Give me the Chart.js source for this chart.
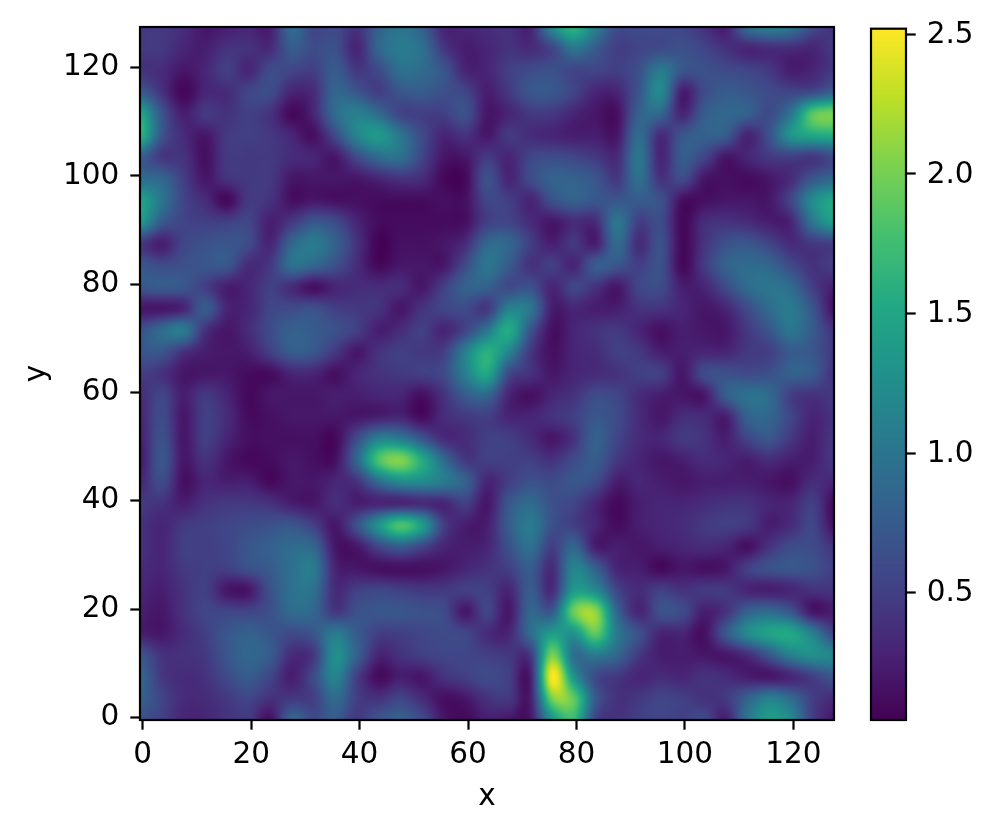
<!DOCTYPE html>
<html>
<head>
<meta charset="utf-8">
<title>Field heatmap</title>
<script src="https://cdn.jsdelivr.net/npm/chart.js@4"></script>
<style>
    html, body { margin: 0; padding: 0; background: #fff; }
    #wrap { position: relative; width: 995px; height: 832px; overflow: hidden; }
    canvas { position: absolute; top: 0; }
    #fieldChart { left: 0; }
    #barChart { left: 860px; }
</style>
</head>
<body>
<div id="wrap">
    <canvas id="fieldChart" width="860" height="832"></canvas>
    <canvas id="barChart" width="135" height="832"></canvas>
</div>
<script>
// Values, on a grid every 4 units
const xNodes = [-0.5,3.5,7.5,11.5,15.5,19.5,23.5,27.5,31.5,35.5,39.5,43.5,47.5,51.5,55.5,59.5,63.5,67.5,71.5,75.5,79.5,83.5,87.5,91.5,95.5,99.5,103.5,107.5,111.5,115.5,119.5,123.5,127.5];
const yNodes = [127.5,123.5,119.5,115.5,111.5,107.5,103.5,99.5,95.5,91.5,87.5,83.5,79.5,75.5,71.5,67.5,63.5,59.5,55.5,51.5,47.5,43.5,39.5,35.5,31.5,27.5,23.5,19.5,15.5,11.5,7.5,3.5,-0.5];
const fieldRows = [
    [.45,.45,.35,.2,.25,.3,.25,.9,.55,.6,.4,.8,1.0,.8,.3,.3,.35,.4,.3,1.2,1.65,1.1,.6,.6,.6,.55,.4,.25,.9,1.1,1.0,.6,.4],
    [.45,.45,.3,.25,.4,.4,.35,.75,.6,.65,.3,.85,1.05,.95,.45,.25,.3,.4,.35,.55,1.0,.75,.5,.55,.6,.65,.55,.4,.3,.35,.35,.3,.45],
    [.4,.35,.2,.3,.5,.3,.6,.55,.5,.75,.45,.6,.95,.9,.7,.3,.3,.5,.6,.65,.55,.55,.5,.65,1.05,.7,.65,.6,.55,.45,.25,.3,.45],
    [.75,.4,.08,.3,.35,.55,.6,.3,.35,.85,.7,.5,.7,.75,.65,.55,.25,.45,.7,.7,.55,.3,.3,.7,1.2,.25,.6,.75,.7,.6,.55,.6,.8],
    [1.5,.7,.25,.45,.4,.5,.4,.1,.3,.9,1.1,.9,.55,.5,.5,.65,.2,.3,.45,.45,.3,.2,.15,.8,.85,.3,.75,.85,.8,.6,1.0,1.85,2.0],
    [1.65,.7,.35,.2,.45,.5,.45,.3,.15,.6,1.15,1.35,1.0,.6,.3,.4,.2,.45,.35,.3,.25,.25,.2,.9,.35,.7,.8,.75,.3,.65,1.3,1.5,1.55],
    [.8,.45,.4,.15,.45,.45,.45,.35,.3,.2,.6,.9,.95,.55,.2,.2,.45,.3,.55,.6,.55,.45,.35,1.0,.3,.75,.55,.2,.3,.45,.5,.45,.6],
    [.9,.85,.5,.2,.4,.45,.45,.2,.2,.2,.2,.3,.4,.35,.1,.1,.65,.3,.6,.8,.8,.7,.45,.95,.4,.6,.2,.15,.12,.2,.35,.7,.85],
    [1.45,1.0,.55,.35,.1,.45,.4,.15,.2,.15,.15,.12,.12,.12,.15,.15,.55,.5,.3,.65,.8,.7,.7,.75,.65,.15,.15,.2,.2,.2,.55,1.2,1.5],
    [1.35,.75,.55,.5,.5,.55,.25,.45,.7,.6,.3,.12,.12,.12,.12,.15,.5,.55,.35,.2,.35,.35,1.0,.5,.6,.1,.35,.4,.35,.25,.3,1.0,1.4],
    [.45,.25,.55,.65,.7,.6,.3,.85,1.05,.8,.4,.06,.15,.15,.2,.35,.85,.85,.5,.25,.45,.25,.9,.35,.65,.1,.4,.65,.7,.55,.35,.45,.5],
    [.7,.6,.65,.7,.7,.35,.45,.95,.85,.65,.35,.1,.2,.2,.2,.6,1.0,.75,.4,.5,.3,.75,.7,.5,.65,.1,.45,.8,.9,.85,.6,.4,.5],
    [.7,.75,.7,.5,.25,.3,.5,.35,.15,.3,.35,.35,.35,.2,.5,.8,.8,.6,.65,.3,.55,.4,.2,.55,.6,.25,.3,.6,.9,1.0,.9,.5,.25],
    [.2,.2,.3,.75,.3,.3,.55,.6,.65,.5,.45,.4,.2,.4,.55,.6,.45,1.1,1.0,.25,.3,.25,.25,.4,.4,.3,.2,.3,.6,.9,1.05,.7,.15],
    [.65,.9,1.05,.4,.2,.35,.6,.8,.75,.65,.5,.25,.35,.5,.3,.55,1.0,1.55,.7,.15,.3,.4,.45,.3,.15,.25,.2,.2,.45,.7,1.0,.75,.4],
    [.7,.7,.4,.25,.2,.25,.5,.75,.7,.45,.2,.4,.5,.45,.5,1.1,1.6,1.15,.45,.15,.3,.35,.5,.45,.25,.25,.3,.3,.45,.5,.75,.7,.45],
    [.5,.4,.2,.2,.2,.12,.12,.3,.3,.15,.3,.4,.45,.5,.6,1.1,1.5,.6,.4,.2,.3,.35,.4,.5,.5,.2,.6,.65,.6,.65,.8,.75,.4],
    [.35,.55,.25,.45,.3,.1,.2,.2,.2,.25,.25,.3,.3,.15,.4,.75,.85,.3,.15,.3,.4,.6,.55,.35,.25,.2,.2,.75,.95,.9,.5,.4,.45],
    [.3,.6,.2,.5,.35,.12,.15,.2,.2,.2,.2,.25,.3,.12,.35,.45,.5,.3,.3,.4,.5,.7,.6,.35,.2,.35,.35,.25,.8,.85,.55,.3,.4],
    [.25,.65,.2,.5,.3,.15,.15,.15,.15,.1,.6,1.1,1.05,.7,.35,.35,.5,.5,.35,.2,.4,.8,.55,.35,.3,.45,.4,.25,.55,.7,.45,.25,.45],
    [.2,.7,.2,.4,.2,.1,.12,.2,.15,.15,.85,1.8,2.05,1.55,.9,.45,.5,.5,.5,.4,.6,.75,.45,.3,.2,.25,.35,.3,.25,.35,.25,.25,.45],
    [.3,.6,.15,.3,.25,.25,.1,.2,.2,.3,.4,.9,1.2,1.2,1.05,.8,.3,.5,.65,.6,.7,.6,.25,.3,.25,.2,.25,.25,.25,.2,.15,.35,.3],
    [.45,.4,.25,.4,.45,.45,.4,.25,.2,.35,.25,.3,.3,.35,.3,.5,.2,.7,.9,.65,.55,.3,.1,.25,.3,.3,.35,.4,.4,.3,.3,.5,.1],
    [.4,.3,.45,.5,.55,.6,.65,.7,.5,.2,.65,1.3,1.8,1.4,.5,.25,.25,.75,1.05,.65,.5,.3,.12,.25,.3,.35,.45,.5,.45,.25,.35,.55,.15],
    [.4,.3,.5,.5,.55,.7,.8,.9,.85,.2,.2,.55,.75,.55,.3,.25,.3,.65,.95,.5,.85,.25,.25,.2,.25,.3,.35,.3,.15,.4,.6,.6,.4],
    [.35,.3,.45,.5,.5,.65,.75,.95,1.05,.3,.2,.15,.15,.15,.2,.3,.4,.5,.75,.35,1.15,.8,.3,.25,.1,.2,.15,.2,.5,.65,.7,.65,.5],
    [.3,.25,.4,.5,.2,.2,.65,.95,.95,.35,.5,.55,.5,.45,.45,.5,.5,.3,.75,.35,1.35,1.2,.55,.35,.5,.4,.45,.45,.3,.25,.3,.4,.4],
    [.25,.2,.4,.55,.55,.55,.65,.9,.85,.45,.65,.7,.7,.65,.6,.2,.55,.2,.85,.75,1.95,2.1,.85,.3,.65,.6,.25,.4,.8,.9,.7,.2,.25],
    [.25,.2,.35,.5,.7,.8,.7,.6,.7,1.05,.75,.5,.5,.55,.6,.55,.35,.3,.9,1.4,1.3,1.9,1.05,.65,.3,.3,.15,.7,1.2,1.45,1.5,1.1,.55],
    [.7,.4,.4,.45,.7,.85,.75,.35,.45,1.25,.8,.3,.4,.5,.55,.55,.5,.45,.45,2.0,.95,1.05,.85,.45,.25,.25,.2,.2,.35,.7,1.1,1.25,1.15],
    [.85,.45,.35,.4,.6,.75,.55,.25,.6,1.15,.5,.12,.25,.2,.4,.5,.6,.5,.25,2.5,1.3,.6,.45,.3,.35,.3,.4,.35,.25,.2,.3,.5,.7],
    [.8,.55,.35,.35,.45,.55,.4,.45,.5,.9,.5,.4,.55,.35,.15,.2,.4,.45,.25,2.0,1.9,.75,.4,.45,.55,.5,.4,.45,.8,1.1,.9,.5,.35],
    [.65,.5,.3,.3,.4,.45,.15,.85,.6,.75,.45,.7,.8,.6,.2,.1,.25,.2,.2,1.3,1.7,.55,.4,.5,.55,.5,.6,.25,1.0,1.4,1.2,.5,.2]
];
const xTicks = [0,20,40,60,80,100,120];
const yTicks = [0,20,40,60,80,100,120];
const barTicks = [0.5,1.0,1.5,2.0,2.5];
const barRange = [0.044,2.52];
const xLabel = 'x';
const yLabel = 'y';
// viridis, every 1/10
const viridis = ['#440154','#482475','#414487','#355f8d','#2a788e','#21918c','#22a884','#44bf70','#7ad151','#bddf26','#fde725'];

const fontStack = '"DejaVu Sans", sans-serif';
const fontPx = 29.5;
const tickLen = 9.7;
const lineW = 2.2;

const viridisRgb = viridis.map(hex => [1, 3, 5].map(k => parseInt(hex.substr(k, 2), 16)));

function colorFor(value) {
    const t = Math.min(1, Math.max(0, (value - barRange[0]) / (barRange[1] - barRange[0])));
    const pos = t * (viridisRgb.length - 1);
    const i = Math.min(viridisRgb.length - 2, Math.floor(pos));
    const f = pos - i;
    return viridisRgb[i].map((c, k) => c + (viridisRgb[i + 1][k] - c) * f);
}

function catmull(a, b, c, d, t) {
    return b + 0.5 * t * (c - a + t * (2 * a - 5 * b + 4 * c - d + t * (3 * (b - c) + d - a)));
}

// Same idea as imshow with a bicubic filter: smooths between the read values at draw time
function sampleField(x, y) {
    const last = xNodes.length - 1;
    const gx = (x - xNodes[0]) / (xNodes[1] - xNodes[0]);
    const gy = (yNodes[0] - y) / (yNodes[0] - yNodes[1]);
    const ix = Math.max(0, Math.min(last - 1, Math.floor(gx)));
    const iy = Math.max(0, Math.min(last - 1, Math.floor(gy)));
    const cl = n => Math.max(0, Math.min(last, n));
    const rows = [-1, 0, 1, 2].map(dy => {
        const row = fieldRows[cl(iy + dy)];
        return catmull(row[cl(ix - 1)], row[ix], row[ix + 1], row[cl(ix + 2)], gx - ix);
    });
    return catmull(rows[0], rows[1], rows[2], rows[3], gy - iy);
}

// Chart.js nudges the plot area when labels get big, so pin it here
const pinAreaPlugin = {
    id: 'pinArea',
    afterLayout(chart) {
        const { chartArea, scales } = chart;
        chartArea.left = 140; chartArea.right = 834; chartArea.top = 27; chartArea.bottom = 720;
        chartArea.width = 694; chartArea.height = 693;
        scales.x.left = 140; scales.x.right = 834; scales.x.width = 694;
        scales.x.top = 720; scales.x.bottom = 832; scales.x.height = 112;
        scales.y.top = 27; scales.y.bottom = 720; scales.y.height = 693;
        scales.y.left = 0; scales.y.right = 140; scales.y.width = 140;
        scales.x.configure();
        scales.y.configure();
    }
};

const heatPlugin = {
    id: 'heat',
    beforeDatasetsDraw(chart) {
        const { ctx, chartArea, scales } = chart;
        const left = Math.round(chartArea.left), top = Math.round(chartArea.top);
        const w = Math.round(chartArea.right) - left, h = Math.round(chartArea.bottom) - top;
        const img = ctx.createImageData(w, h);
        for (let py = 0; py < h; py++) {
            const yVal = scales.y.getValueForPixel(top + py + 0.5);
            for (let px = 0; px < w; px++) {
                const xVal = scales.x.getValueForPixel(left + px + 0.5);
                const rgb = colorFor(sampleField(xVal, yVal));
                const o = (py * w + px) * 4;
                img.data[o] = rgb[0];
                img.data[o + 1] = rgb[1];
                img.data[o + 2] = rgb[2];
                img.data[o + 3] = 255;
            }
        }
        ctx.putImageData(img, left, top);
    }
};

const barPlugin = {
    id: 'bar',
    beforeDatasetsDraw(chart) {
        const { ctx, chartArea, scales } = chart;
        for (let py = Math.round(chartArea.top); py < Math.round(chartArea.bottom); py++) {
            const rgb = colorFor(scales.y.getValueForPixel(py + 0.5));
            ctx.fillStyle = `rgb(${rgb[0]},${rgb[1]},${rgb[2]})`;
            ctx.fillRect(chartArea.left, py, chartArea.right - chartArea.left, 1);
        }
    }
};

const framePlugin = {
    id: 'frame',
    afterDraw(chart) {
        const { ctx, chartArea } = chart;
        ctx.save();
        ctx.strokeStyle = '#000';
        ctx.lineWidth = lineW;
        ctx.strokeRect(chartArea.left, chartArea.top, chartArea.right - chartArea.left, chartArea.bottom - chartArea.top);
        ctx.restore();
    }
};

function axisBase(min, max, ticks) {
    return {
        type: 'linear',
        min: min,
        max: max,
        afterBuildTicks: axis => { axis.ticks = ticks.map(v => ({ value: v })); },
        grid: { drawOnChartArea: false, drawTicks: true, tickLength: tickLen, tickWidth: lineW, tickColor: '#000' },
        border: { display: false },
        ticks: { color: '#000', font: { family: fontStack, size: fontPx }, padding: 8, maxRotation: 0, autoSkip: false, callback: v => String(v) }
    };
}

document.addEventListener('DOMContentLoaded', function() {
    Chart.defaults.devicePixelRatio = 1;

    const xAxis = axisBase(xNodes[0], xNodes[xNodes.length - 1], xTicks);
    xAxis.afterFit = axis => { axis.height = 112; };
    xAxis.title = { display: true, text: xLabel, color: '#000', font: { family: fontStack, size: fontPx }, padding: { top: 0, bottom: 17 } };

    const yAxis = axisBase(yNodes[yNodes.length - 1], yNodes[0], yTicks);
    yAxis.afterFit = axis => { axis.width = 140; };
    yAxis.ticks.padding = 11;
    yAxis.title = { display: true, text: yLabel, color: '#000', font: { family: fontStack, size: fontPx }, padding: { top: 20, bottom: 0 } };

    new Chart(document.getElementById('fieldChart').getContext('2d'), {
        type: 'scatter',
        data: {
            datasets: [{
                label: 'field',
                data: fieldRows.flatMap((row, j) => row.map((v, i) => ({ x: xNodes[i], y: yNodes[j], v: v }))),
                pointRadius: 0
            }]
        },
        options: {
            responsive: false,
            animation: false,
            layout: { padding: { top: 27, right: 26, left: 0, bottom: 0 } },
            plugins: { legend: { display: false }, tooltip: { enabled: false } },
            scales: { x: xAxis, y: yAxis }
        },
        plugins: [pinAreaPlugin, heatPlugin, framePlugin]
    });

    const barAxis = axisBase(barRange[0], barRange[1], barTicks);
    barAxis.position = 'right';
    barAxis.afterFit = axis => { axis.width = 89; };
    barAxis.ticks.callback = v => v.toFixed(1);
    barAxis.ticks.labelOffset = 1;
    barAxis.ticks.padding = 11;

    new Chart(document.getElementById('barChart').getContext('2d'), {
        type: 'scatter',
        data: { datasets: [{ label: 'scale', data: barTicks.map(v => ({ x: 0, y: v })), pointRadius: 0 }] },
        options: {
            responsive: false,
            animation: false,
            layout: { padding: { top: 27, bottom: 112, left: 11, right: 0 } },
            plugins: { legend: { display: false }, tooltip: { enabled: false } },
            scales: {
                x: { display: false },
                y: barAxis
            }
        },
        plugins: [barPlugin, framePlugin]
    });
});
</script>
</body>
</html>
